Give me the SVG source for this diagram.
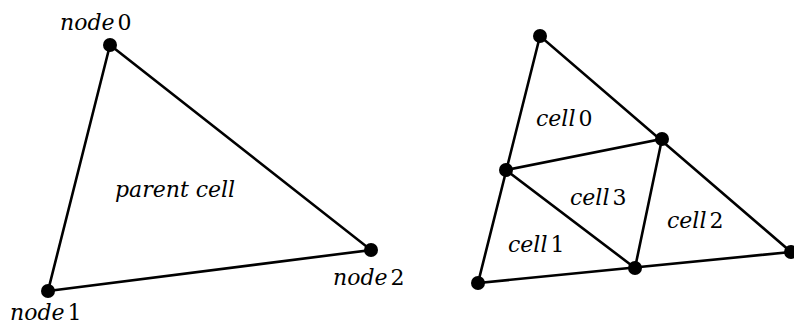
<svg xmlns="http://www.w3.org/2000/svg" width="794" height="326" viewBox="0 0 794 326">
<style>
.e{stroke:#000;stroke-width:2.6;fill:none;stroke-linecap:round}
.d{fill:#000}
.t{font-family:"DejaVu Serif",serif;font-style:italic;font-size:22px;fill:#000}
.n{font-style:normal}
</style>
<rect width="794" height="326" fill="#fff"/>
<g id="connectors">
<path class="e" d="M110,45 L48,291 L371,250 Z"/>
<path class="e" d="M540,36 L478,283 L791,252 Z"/>
<path class="e" d="M506,170 L662,139 L635,268 Z"/>
</g>
<g id="node0"><circle class="d" cx="110" cy="45" r="7"/><text class="t" x="60" y="30">node<tspan class="n" dx="3">0</tspan></text></g>
<g id="node1"><circle class="d" cx="48" cy="291" r="7"/><text class="t" x="10" y="320">node<tspan class="n" dx="3">1</tspan></text></g>
<g id="node2"><circle class="d" cx="371" cy="250" r="7"/><text class="t" x="333" y="285">node<tspan class="n" dx="3">2</tspan></text></g>
<g id="parent"><text class="t" x="115" y="197">parent cell</text></g>
<g id="r0"><circle class="d" cx="540" cy="36" r="7"/></g>
<g id="r1"><circle class="d" cx="478" cy="283" r="7"/></g>
<g id="r2"><circle class="d" cx="791" cy="252" r="7"/></g>
<g id="m01"><circle class="d" cx="506" cy="170" r="7"/></g>
<g id="m02"><circle class="d" cx="662" cy="139" r="7"/></g>
<g id="m12"><circle class="d" cx="635" cy="268" r="7"/></g>
<g id="cell0"><text class="t" x="536" y="126">cell<tspan class="n" dx="3">0</tspan></text></g>
<g id="cell1"><text class="t" x="508" y="252">cell<tspan class="n" dx="3">1</tspan></text></g>
<g id="cell2"><text class="t" x="667" y="228">cell<tspan class="n" dx="3">2</tspan></text></g>
<g id="cell3"><text class="t" x="570" y="205">cell<tspan class="n" dx="3">3</tspan></text></g>
</svg>
